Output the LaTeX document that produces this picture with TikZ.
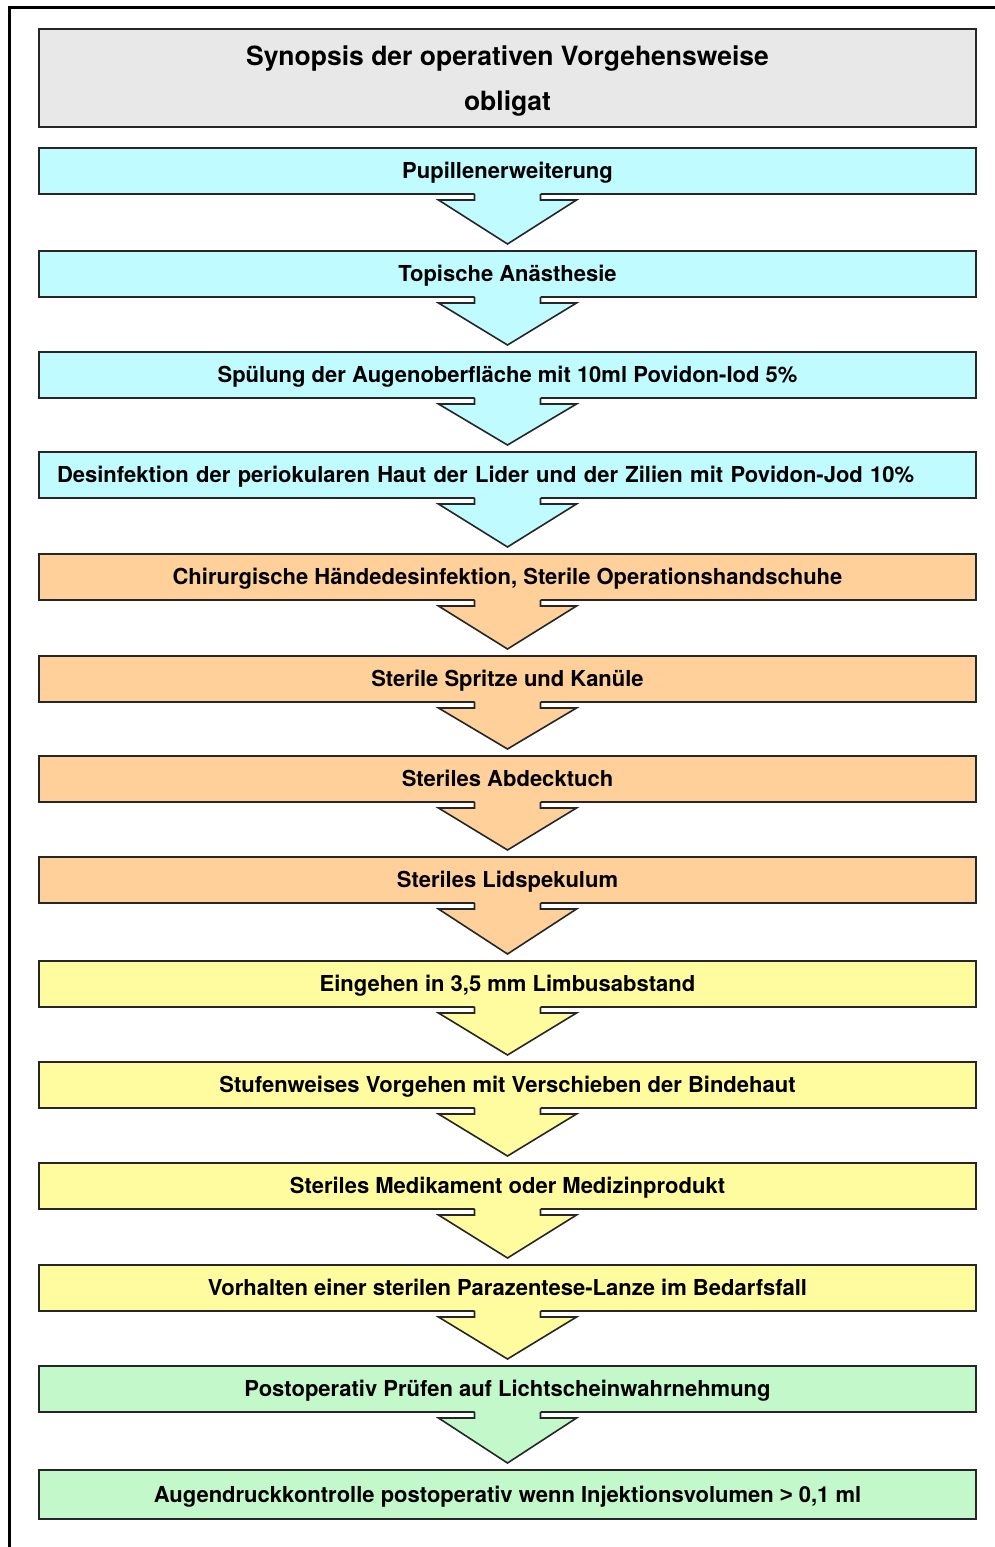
\documentclass[tikz,border=0pt]{standalone}
\usepackage{fontspec}
\setmainfont{TeX Gyre Heros}
\newfontfamily\signfont{Liberation Sans}
\usetikzlibrary{calc}
\definecolor{titlegray}{RGB}{232,232,232}
\definecolor{stepcyan}{RGB}{192,252,255}
\definecolor{steporange}{RGB}{255,208,154}
\definecolor{stepyellow}{RGB}{255,252,160}
\definecolor{stepgreen}{RGB}{194,248,202}
\tikzset{
  boxline/.style = {draw = black!85, line width = 1.6pt, line join = miter},
  basebox/.style = {boxline, rectangle, minimum width = 937pt, inner sep = 0pt, outer sep = 0pt},
  stepbox/.style = {basebox, minimum height = 46pt, text height = 18pt, text depth = 3pt,
    font = \fontsize{22}{26}\bfseries\selectfont},
}
\begin{document}
\begin{tikzpicture}[x = 1pt, y = -1pt]
        \useasboundingbox (0,0) rectangle (994,1547);
        % frame
        \path[draw, line width = 3pt](9,1600)--(9,7.5)--(1000,7.5);
        % title
        \node[basebox, fill = titlegray, minimum height = 98pt, align = center, text depth = 0pt,
          font = \fontsize{26.5}{45}\bfseries\selectfont](title)at(507.5,78){Synopsis der operativen Vorgehensweise\\obligat};
        % steps
        \node[stepbox, fill = stepcyan](s1)at(507.5,171){Pupillenerweiterung};
        \node[stepbox, fill = stepcyan](s2)at(507.5,274){Topische Anästhesie};
        \node[stepbox, fill = stepcyan](s3)at(507.5,375){Spülung der Augenoberfläche mit 10ml Povidon-Iod 5\%};
        \node[stepbox, fill = stepcyan, text width = 901pt, align = left, inner xsep = 18pt](s4)at(507.5,475){Desinfektion der periokularen Haut der Lider und der Zilien mit Povidon-Jod 10\%};
        \node[stepbox, fill = steporange](s5)at(507.5,577){Chirurgische Händedesinfektion, Sterile Operationshandschuhe};
        \node[stepbox, fill = steporange](s6)at(507.5,679){Sterile Spritze und Kanüle};
        \node[stepbox, fill = steporange](s7)at(507.5,779){Steriles Abdecktuch};
        \node[stepbox, fill = steporange](s8)at(507.5,880){Steriles Lidspekulum};
        \node[stepbox, fill = stepyellow](s9)at(507.5,984){Eingehen in 3,5 mm Limbusabstand};
        \node[stepbox, fill = stepyellow](s10)at(507.5,1085){Stufenweises Vorgehen mit Verschieben der Bindehaut};
        \node[stepbox, fill = stepyellow](s11)at(507.5,1186){Steriles Medikament oder Medizinprodukt};
        \node[stepbox, fill = stepyellow](s12)at(507.5,1288){Vorhalten einer sterilen Parazentese-Lanze im Bedarfsfall};
        \node[stepbox, fill = stepgreen](s13)at(507.5,1389){Postoperativ Prüfen auf Lichtscheinwahrnehmung};
        \node[stepbox, fill = stepgreen, minimum height = 49pt](s14)at(507.5,1494.5){Augendruckkontrolle postoperativ wenn Injektionsvolumen {\signfont >} 0,1 ml};
        % block arrows
        \foreach \a/\b/\c in {s1/s2/stepcyan, s2/s3/stepcyan, s3/s4/stepcyan, s4/s5/stepcyan,
          s5/s6/steporange, s6/s7/steporange, s7/s8/steporange, s8/s9/steporange,
          s9/s10/stepyellow, s10/s11/stepyellow, s11/s12/stepyellow, s12/s13/stepyellow,
          s13/s14/stepgreen}{
          \path[fill = \c]($(\a.south)+(-33,-4)$)--($(\a.south)+(-33,6)$)--($(\a.south)+(-69,6)$)
            --($(\b.north)+(0,-7)$)--($(\a.south)+(69,6)$)--($(\a.south)+(33,6)$)--($(\a.south)+(33,-4)$)--cycle;
          \path[boxline]($(\a.south)+(-33,0)$)--($(\a.south)+(-33,6)$)--($(\a.south)+(-69,6)$)
            --($(\b.north)+(0,-7)$)--($(\a.south)+(69,6)$)--($(\a.south)+(33,6)$)--($(\a.south)+(33,0)$);
        }
    \end{tikzpicture}
\end{document}
